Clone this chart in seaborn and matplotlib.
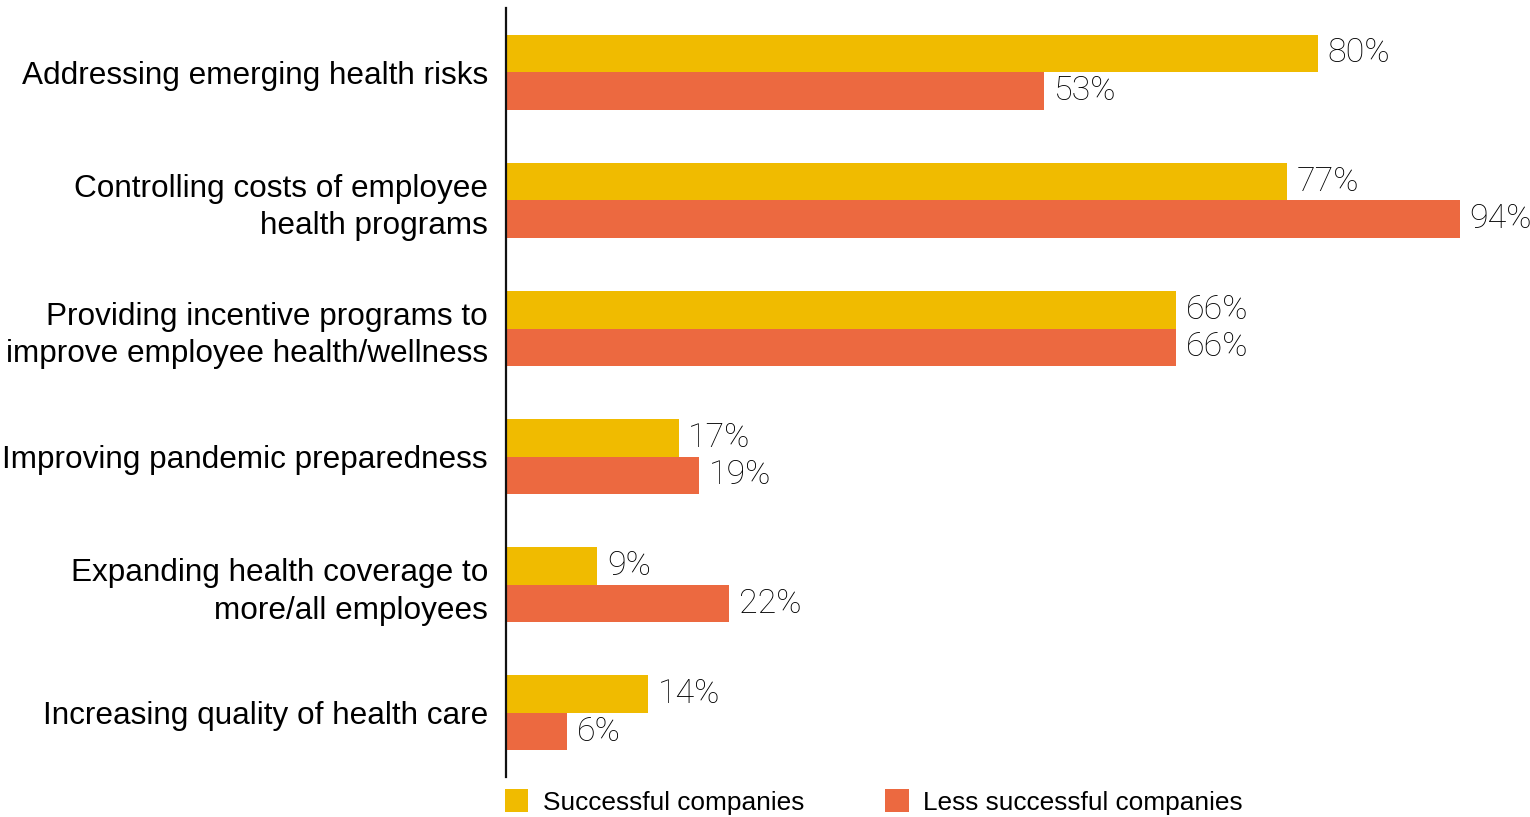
import matplotlib
matplotlib.use("Agg")
import matplotlib.pyplot as plt
import seaborn as sns
import pandas as pd

categories = [
    "Addressing emerging health risks",
    "Controlling costs of employee\nhealth programs",
    "Providing incentive programs to\nimprove employee health/wellness",
    "Improving pandemic preparedness",
    "Expanding health coverage to\nmore/all employees",
    "Increasing quality of health care",
]
series_names = ["Successful companies", "Less successful companies"]
successful = [80, 77, 66, 17, 9, 14]
less_successful = [53, 94, 66, 19, 22, 6]
colors = ["#F0BB00", "#EC6940"]

df = pd.DataFrame({
    "category": categories * 2,
    "group": [series_names[0]] * len(categories) + [series_names[1]] * len(categories),
    "value": successful + less_successful,
})

sns.set_style("white")
plt.rcParams["font.family"] = ["Liberation Sans", "DejaVu Sans"]
plt.rcParams["text.color"] = "black"

fig = plt.figure(figsize=(15.3, 8.17), dpi=100)
ax = fig.add_axes([0.3307, 0.049, 0.6693, 0.941])

sns.barplot(data=df, y="category", x="value", hue="group", order=categories,
            hue_order=series_names, palette=colors, orient="h", width=0.585,
            saturation=1, linewidth=0, ax=ax, legend=True)

ax.set_xlim(0, 100.9)
ax.set_ylim(5.5, -0.5)
ax.set_xlabel("")
ax.set_ylabel("")
ax.set_xticks([])
ax.tick_params(axis="y", length=0, pad=13, labelsize=22.7, labelcolor="black")
for lbl in ax.get_yticklabels():
    lbl.set_horizontalalignment("right")
    lbl.set_multialignment("right")
    lbl.set_linespacing(1.32)

for side in ["top", "right", "bottom"]:
    ax.spines[side].set_visible(False)
ax.spines["left"].set_color("#111111")
ax.spines["left"].set_linewidth(1.6)

for cont in ax.containers:
    ax.bar_label(cont, labels=[f"{int(round(v))}%" for v in cont.datavalues],
                 padding=7, fontsize=24.5, color="black", clip_on=False,
                 family=["Roboto", "Liberation Sans"], fontweight="light")

handles, labels = ax.get_legend_handles_labels()
ax.legend(handles, labels, loc="upper left", bbox_to_anchor=(-0.001, -0.016),
          ncol=2, frameon=False, fontsize=18.9, handlelength=0.88,
          handleheight=0.96, handletextpad=0.56, columnspacing=3.1,
          borderaxespad=0, borderpad=0, labelcolor="black")

fig.savefig("out.png", dpi=100)
